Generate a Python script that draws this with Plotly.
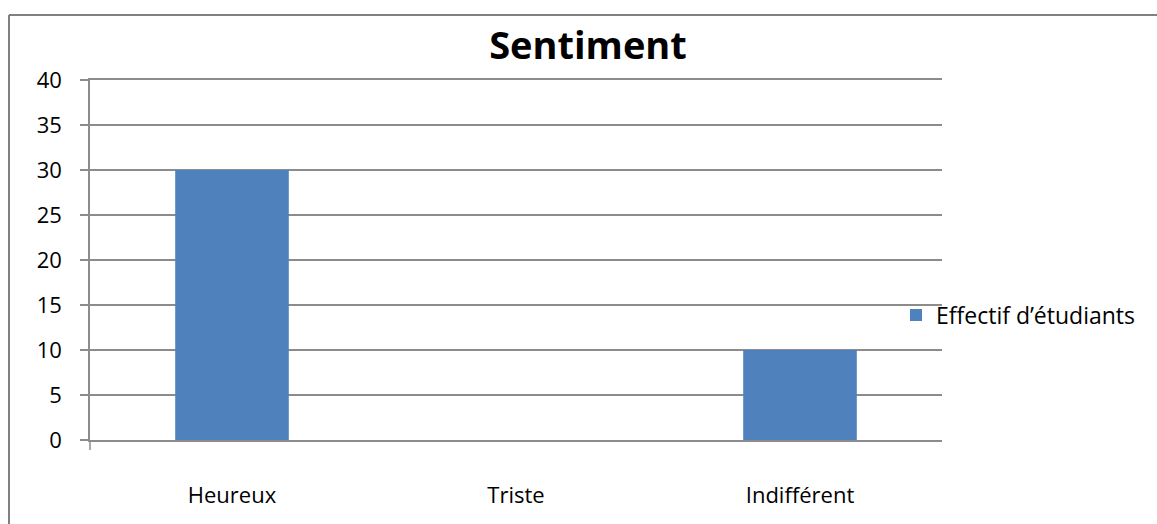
import plotly.graph_objects as go

categories = ["Heureux", "Triste", "Indifférent"]
values = [30, 0, 10]
series_name = "Effectif d’étudiants"
title_text = "Sentiment"
y_ticks = [0, 5, 10, 15, 20, 25, 30, 35, 40]

FONT = "Open Sans"
GRID = "#8c8c8c"

fig = go.Figure()
fig.add_trace(go.Bar(
    x=categories, y=values, name=series_name,
    marker=dict(color="#4F81BD", line=dict(width=0)),
    width=0.4,
))

L, R, T, B = 90, 215, 80, 84
W, H = 1157, 524
pw, ph = W - L - R, H - T - B

def px(x):
    return (x - L) / pw

def py(y):
    return (H - B - y) / ph

fig.update_layout(
    width=W, height=H,
    margin=dict(l=L, r=R, t=T, b=B),
    paper_bgcolor="white", plot_bgcolor="white",
    font=dict(family=FONT, color="black", size=22),
    title=dict(text="<b>" + title_text + "</b>", x=588 / W, xanchor="center",
               y=1 - 46 / H, yanchor="middle", font=dict(size=38, family=FONT)),
    showlegend=True,
    legend=dict(x=px(896), xanchor="left", y=py(315), yanchor="middle",
                font=dict(size=23, family=FONT), bgcolor="rgba(0,0,0,0)",
                itemwidth=30, tracegroupgap=0),
    xaxis=dict(showgrid=False, showline=True, mirror=True, linecolor=GRID, linewidth=1.5,
               ticks="", ticklabelstandoff=35, zeroline=False,
               tickfont=dict(size=22)),
    yaxis=dict(range=[0, 40], tickvals=y_ticks, showgrid=True, gridcolor=GRID,
               gridwidth=1.5, showline=True, linecolor=GRID, linewidth=1.5,
               ticks="outside", ticklen=8, tickcolor=GRID, tickwidth=1.5,
               ticklabelstandoff=14, zeroline=False, tickfont=dict(size=22)),
    shapes=[
        dict(type="line", xref="paper", yref="paper", x0=0, x1=0, y0=0, y1=py(450),
             line=dict(color=GRID, width=1.5)),
        dict(type="line", xref="paper", yref="paper", x0=px(9), x1=px(9), y0=py(15), y1=py(600),
             line=dict(color="#808080", width=2)),
        dict(type="line", xref="paper", yref="paper", x0=px(9), x1=px(1200), y0=py(15), y1=py(15),
             line=dict(color="#808080", width=2)),
    ],
)

fig.write_html("out.html", config={"displayModeBar": False},
               post_script="document.body.style.margin='0px';")
